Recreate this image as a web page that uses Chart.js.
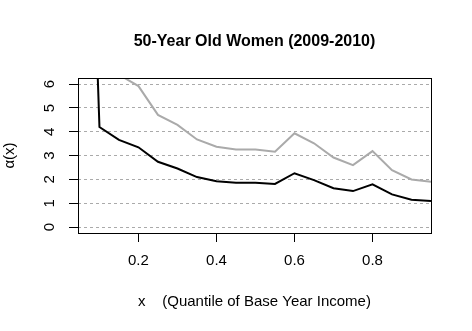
<!DOCTYPE html>
<html>
<head>
<meta charset="utf-8">
<script src="https://cdn.jsdelivr.net/npm/chart.js@4/dist/chart.umd.min.js"></script>
<style>
  html, body { margin: 0; padding: 0; background: #fff; }
  #wrap { width: 472px; height: 331px; }
</style>
</head>
<body>
<div id="wrap"><canvas id="chart" width="472" height="331"></canvas></div>
<script>
// quantiles of base year income
const quantiles = [0.09, 0.10, 0.15, 0.20, 0.25, 0.30, 0.35, 0.40, 0.45, 0.50, 0.55, 0.60, 0.65, 0.70, 0.75, 0.80, 0.85, 0.90, 0.95];
// black curve
const alphaBlack = [9.0, 4.2, 3.66, 3.35, 2.74, 2.46, 2.10, 1.92, 1.86, 1.86, 1.81, 2.26, 1.97, 1.63, 1.51, 1.79, 1.37, 1.15, 1.09];
// grey curve
const alphaGrey = [14.0, 9.5, 6.4, 5.92, 4.71, 4.29, 3.68, 3.37, 3.26, 3.26, 3.16, 3.94, 3.52, 2.92, 2.60, 3.19, 2.39, 2.00, 1.90];
const xTicks = [0.2, 0.4, 0.6, 0.8];
const yTicks = [0, 1, 2, 3, 4, 5, 6];

const toPoints = (ys) => quantiles.map((x, i) => ({ x: x, y: ys[i] }));

// plot frame like R's box()
const boxPlugin = {
  id: 'box',
  afterDatasetsDraw(chart) {
    const a = chart.chartArea;
    const ctx = chart.ctx;
    ctx.save();
    ctx.strokeStyle = '#000';
    ctx.lineWidth = 1;
    ctx.strokeRect(Math.round(a.left) + 0.5, Math.round(a.top) + 0.5, Math.round(a.right - a.left), Math.round(a.bottom - a.top));
    ctx.restore();
  }
};

const font = { family: 'Liberation Sans, Arial, sans-serif', size: 15 };

new Chart(document.getElementById('chart'), {
  type: 'line',
  data: {
    datasets: [
      { data: toPoints(alphaGrey), borderColor: '#aaaaaa', borderWidth: 2, pointRadius: 0, tension: 0, clip: 0 },
      { data: toPoints(alphaBlack), borderColor: '#000000', borderWidth: 2, pointRadius: 0, tension: 0, clip: 0 }
    ]
  },
  options: {
    responsive: false,
    animation: false,
    layout: { padding: { left: 0, right: 41, top: 0, bottom: 0 } },
    plugins: {
      legend: { display: false },
      tooltip: { enabled: false },
      title: {
        display: true,
        fullSize: false,
        text: '50-Year Old Women (2009-2010)',
        color: '#000',
        font: { family: font.family, size: 16, weight: 'bold' },
        padding: { top: 32, bottom: 26.8 }
      }
    },
    scales: {
      x: {
        type: 'linear',
        min: 0.045,
        max: 0.95,
        afterBuildTicks: (scale) => { scale.ticks = xTicks.map(v => ({ value: v })); },
        afterFit: (scale) => { scale.height = 98; },
        grid: { drawOnChartArea: false, drawTicks: true, tickLength: 9, tickColor: '#000', tickWidth: 1 },
        border: { display: false },
        ticks: { color: '#000', font: font, padding: 10, maxRotation: 0, callback: (v) => v.toFixed(1) },
        title: { display: true, text: 'x    (Quantile of Base Year Income)', color: '#000', font: font, padding: { top: 14, bottom: 20 } }
      },
      y: {
        type: 'linear',
        min: -0.25,
        max: 6.26,
        afterBuildTicks: (scale) => { scale.ticks = yTicks.map(v => ({ value: v })); },
        afterFit: (scale) => { scale.width = 78; },
        grid: { color: '#aaaaaa', lineWidth: 1, drawTicks: true, tickLength: 9, tickColor: '#000', tickWidth: 1, tickBorderDash: [] },
        border: { display: false, dash: [3, 3] },
        ticks: { color: '#000', font: font, padding: 15, minRotation: 90, maxRotation: 90, crossAlign: 'center' },
        title: { display: true, text: 'α(x)', color: '#000', font: font, padding: { top: 1, bottom: 0 } }
      }
    }
  },
  plugins: [boxPlugin]
});
</script>
</body>
</html>
